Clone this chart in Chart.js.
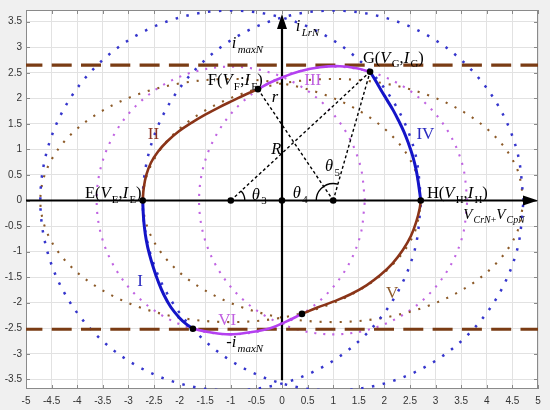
<!DOCTYPE html>
<html><head><meta charset="utf-8">
<script src="https://cdn.jsdelivr.net/npm/chart.js@4.4.1/dist/chart.umd.min.js"></script>
<style>html,body{margin:0;padding:0;background:#f0f0f0;}canvas{display:block;}</style>
</head><body>
<canvas id="c" width="550" height="410"></canvas>
<script>
// ---------------- data ----------------
const xTickValues = [-5,-4.5,-4,-3.5,-3,-2.5,-2,-1.5,-1,-0.5,0,0.5,1,1.5,2,2.5,3,3.5,4,4.5,5];
const xTickLabels = ['-5','-4.5','-4','-3.5','-3','-2.5','-2','-1.5','-1','-0.5','0','0.5','1','1.5','2','2.5','3','3.5','4','4.5','5'];
const yTickValues = [-3.5,-3,-2.5,-2,-1.5,-1,-0.5,0,0.5,1,1.5,2,2.5,3,3.5];
const yTickLabels = ['-3.5','-3','-2.5','-2','-1.5','-1','-0.5','0','0.5','1','1.5','2','2.5','3','3.5'];

// dotted loops (blue, brown, purple) around the two centres
const blueLeftX  = [2.72,2.593,2.222,1.63,0.86,-0.037,-1,-1.963,-2.86,-3.63,-4.222,-4.593,-4.72,-4.593,-4.222,-3.63,-2.86,-1.963,-1,-0.037,0.86,1.63,2.222,2.593,2.72];
const blueRightX = [4.72,4.593,4.222,3.63,2.86,1.963,1,0.037,-0.86,-1.63,-2.222,-2.593,-2.72,-2.593,-2.222,-1.63,-0.86,0.037,1,1.963,2.86,3.63,4.222,4.593,4.72];
const blueLoopY  = [0,0.963,1.86,2.63,3.222,3.593,3.72,3.593,3.222,2.63,1.86,0.963,0,-0.963,-1.86,-2.63,-3.222,-3.593,-3.72,-3.593,-3.222,-2.63,-1.86,-0.963,0];
const brownLeftX  = [2.72,2.593,2.222,1.63,0.86,-0.037,-1,-1.963,-2.86,-3.63,-4.222,-4.593,-4.72,-4.593,-4.222,-3.63,-2.86,-1.963,-1,-0.037,0.86,1.63,2.222,2.593,2.72];
const brownRightX = [4.72,4.593,4.222,3.63,2.86,1.963,1,0.037,-0.86,-1.63,-2.222,-2.593,-2.72,-2.593,-2.222,-1.63,-0.86,0.037,1,1.963,2.86,3.63,4.222,4.593,4.72];
const brownLoopY  = [0,0.616,1.19,1.683,2.061,2.299,2.38,2.299,2.061,1.683,1.19,0.616,0,-0.616,-1.19,-1.683,-2.061,-2.299,-2.38,-2.299,-2.061,-1.683,-1.19,-0.616,0];
const purpleLeftX  = [1.62,1.531,1.269,0.853,0.31,-0.322,-1,-1.678,-2.31,-2.853,-3.269,-3.531,-3.62,-3.531,-3.269,-2.853,-2.31,-1.678,-1,-0.322,0.31,0.853,1.269,1.531,1.62];
const purpleRightX = [3.62,3.531,3.269,2.853,2.31,1.678,1,0.322,-0.31,-0.853,-1.269,-1.531,-1.62,-1.531,-1.269,-0.853,-0.31,0.322,1,1.678,2.31,2.853,3.269,3.531,3.62];
const purpleLoopY  = [0,0.678,1.31,1.853,2.269,2.531,2.62,2.531,2.269,1.853,1.31,0.678,0,-0.678,-1.31,-1.853,-2.269,-2.531,-2.62,-2.531,-2.269,-1.853,-1.31,-0.678,0];

// solid trajectory stages I .. VI
const stageIX   = [-2.72,-2.71,-2.69,-2.65,-2.59,-2.51,-2.42,-2.31,-2.17,-2.0,-1.87,-1.74];
const stageIY   = [0,-0.25,-0.5,-0.78,-1.05,-1.32,-1.58,-1.84,-2.09,-2.3,-2.42,-2.51];
const stageIIX  = [-2.72,-2.7,-2.65,-2.56,-2.42,-2.24,-2.02,-1.77,-1.5,-1.22,-0.95,-0.7,-0.47];
const stageIIY  = [0,0.25,0.5,0.74,0.96,1.16,1.35,1.52,1.68,1.83,1.96,2.08,2.18];
const stageIIIX = [-0.47,-0.25,0,0.35,0.74,1.13,1.46,1.72];
const stageIIIY = [2.18,2.3,2.41,2.53,2.61,2.63,2.59,2.52];
const stageIVX  = [1.72,1.82,1.93,2.05,2.17,2.28,2.38,2.47,2.55,2.62,2.67,2.71];
const stageIVY  = [2.52,2.36,2.17,1.97,1.77,1.56,1.35,1.12,0.88,0.6,0.3,0];
const stageVX   = [0.39,0.68,1.0,1.33,1.65,1.92,2.16,2.36,2.52,2.63,2.69,2.71];
const stageVY   = [-2.22,-2.1,-1.98,-1.84,-1.66,-1.46,-1.23,-0.97,-0.69,-0.39,-0.15,0];
const stageVIX  = [-1.74,-1.41,-1.02,-0.63,-0.23,0.06,0.39];
const stageVIY  = [-2.51,-2.58,-2.62,-2.58,-2.5,-2.38,-2.22];

// key points E, F, G, H, lower I/VI, lower VI/V, centres, origin
const keyPointX = [-2.72,-0.47,1.72,2.71,-1.74,0.39,-1,1,0];
const keyPointY = [0,2.18,2.52,0,-2.51,-2.22,0,0,0];

// construction lines (R, r, centre-to-G)
const lineRX = [-1,1.72],  lineRY = [0,2.52];
const lineSmallRX = [-0.47,1], lineSmallRY = [2.18,0];
const lineGX = [1,1.72],   lineGY = [0,2.52];

// current limits +/- i_maxN
const limitX = [-5,5];
const limitUpperY = [2.65,2.65];
const limitLowerY = [-2.52,-2.52];

// coordinate axes of the state plane
const axisHX = [-5,4.8], axisHY = [0,0];
const axisVX = [0,0],    axisVY = [-3.52,3.4];

// ---------------- chart ----------------
const toPts = (xs, ys) => xs.map((x, i) => ({x, y: ys[i]}));

const dotted = (xs, ys, color, w, dash) => ({
  data: toPts(xs, ys), showLine: true, borderColor: color, borderWidth: w,
  borderDash: dash, pointRadius: 0, tension: 0.34, order: 6, borderCapStyle: 'butt'
});
const solid = (xs, ys, color, w) => ({
  data: toPts(xs, ys), showLine: true, borderColor: color, borderWidth: w,
  pointRadius: 0, tension: 0.4, order: 3, borderCapStyle: 'round'
});
const straight = (xs, ys, color, w, dash, order) => ({
  data: toPts(xs, ys), showLine: true, borderColor: color, borderWidth: w,
  borderDash: dash || [], pointRadius: 0, tension: 0, order: order
});

const BLUE_DOT = '#3535cc', BROWN_DOT = '#8c5a28', PURPLE_DOT = '#c064e2';
const BLUE = '#1414c8', BROWN = '#8a3418', PURPLE = '#b440f0';

const datasets = [
  dotted(blueLeftX, blueLoopY, BLUE_DOT, 2.5, [2.5, 8.5]),
  dotted(blueRightX, blueLoopY, BLUE_DOT, 2.5, [2.5, 8.5]),
  dotted(brownLeftX, brownLoopY, BROWN_DOT, 2.1, [2.1, 7.9]),
  dotted(brownRightX, brownLoopY, BROWN_DOT, 2.1, [2.1, 7.9]),
  dotted(purpleLeftX, purpleLoopY, PURPLE_DOT, 2.1, [2.1, 6.9]),
  dotted(purpleRightX, purpleLoopY, PURPLE_DOT, 2.1, [2.1, 6.9]),
  Object.assign(straight(limitX, limitUpperY, '#7a3c14', 3.2, [20, 9.3], 5), {borderDashOffset: 3.6}),
  Object.assign(straight(limitX, limitLowerY, '#7a3c14', 3.2, [20, 9.3], 5), {borderDashOffset: 3.6}),
  straight(axisHX, axisHY, '#000', 2.2, null, 4),
  straight(axisVX, axisVY, '#000', 2.2, null, 4),
  solid(stageIX, stageIY, BLUE, 3),
  solid(stageIIX, stageIIY, BROWN, 2.6),
  solid(stageIIIX, stageIIIY, PURPLE, 2.6),
  solid(stageIVX, stageIVY, BLUE, 3),
  solid(stageVX, stageVY, BROWN, 2.6),
  solid(stageVIX, stageVIY, PURPLE, 2.6),
  straight(lineRX, lineRY, '#000', 1.4, [3, 2.5], 2),
  straight(lineSmallRX, lineSmallRY, '#000', 1.4, [3, 2.5], 2),
  straight(lineGX, lineGY, '#000', 1.4, [3, 2.5], 2),
  {data: toPts(keyPointX, keyPointY), showLine: false, pointRadius: 3.3,
   pointBackgroundColor: '#000', pointBorderWidth: 0, order: 0}
];

// text annotations (data coordinates of left/centre baseline)
const N = 'n', I = 'i', SN = 'sn', SI = 'si';
const textLabels = [
  {x:-3.85, y:0.04, parts:[['E(',N],['V',I],['E',SN],[',',N],['I',I],['E',SN],[')',N]]},
  {x:-1.45, y:2.26, parts:[['F(',N],['V',I],['F',SN],[';',N],['I',I],['F',SN],[')',N]]},
  {x:1.58,  y:2.70, parts:[['G(',N],['V',I],['G',SN],[',',N],['I',I],['G',SN],[')',N]]},
  {x:2.83,  y:0.04, parts:[['H(',N],['V',I],['H',SN],[',',N],['I',I],['H',SN],[')',N]]},
  {x:0.27,  y:3.31, parts:[['i',I],['LrN',SI]]},
  {x:-0.98, y:2.98, parts:[['i',I],['maxN',SI]]},
  {x:-1.09, y:-2.87, parts:[['-',N],['i',I],['maxN',SI]]},
  {x:3.54,  y:-0.37, size:15, parts:[['V',I],['CrN',SI],['+',SN],['V',I],['CpN',SI]]},
  {x:-0.59, y:0.02, parts:[['θ',I],['3',SN]]},
  {x:0.21,  y:0.04, parts:[['θ',I],['4',SN]]},
  {x:0.84,  y:0.57, parts:[['θ',I],['5',SN]]},
  {x:-0.2,  y:1.93, parts:[['r',I]]},
  {x:-0.21, y:0.92, parts:[['R',I]]},
  {x:-2.77, y:-1.67, size:17, center:true, color:'#2b2bc0', parts:[['I',N]]},
  {x:-2.51, y:1.21,  size:17, center:true, color:'#8a3322', parts:[['II',N]]},
  {x:0.6,   y:2.26,  size:17, center:true, color:'#c060e0', parts:[['III',N]]},
  {x:2.8,   y:1.21,  size:17, center:true, color:'#2b2bc0', parts:[['IV',N]]},
  {x:2.15,  y:-1.9,  size:17, center:true, color:'#8c5a2c', parts:[['V',N]]},
  {x:-1.07, y:-2.44, size:17, center:true, color:'#c060e0', parts:[['VI',N]]}
];

const fontFor = (style, size) => {
  const sub = style[0] === 's';
  const ital = style[style.length - 1] === 'i';
  return (ital ? 'italic ' : '') + (sub ? size * 0.66 : size).toFixed(1) + 'px "Liberation Serif", "DejaVu Serif", serif';
};
// extra advance after an italic glyph (italic correction)
const advanceFor = (ctx, p, size) => {
  const w = ctx.measureText(p[0]).width;
  return w + (p[1] === I ? size * 0.08 : 0);
};

const decorPlugin = {
  id: 'decor',
  beforeDraw(chart) {
    const {ctx, chartArea: a} = chart;
    ctx.save();
    ctx.fillStyle = '#f0f0f0';
    ctx.fillRect(0, 0, chart.width, chart.height);
    ctx.fillStyle = '#ffffff';
    ctx.fillRect(a.left, a.top, a.right - a.left, a.bottom - a.top);
    ctx.restore();
  },
  beforeDatasetsDraw(chart) {
    const {ctx, chartArea: a, scales: {x, y}} = chart;
    ctx.save();
    ctx.strokeStyle = '#8a8a8a';
    ctx.lineWidth = 1;
    ctx.beginPath();
    xTickValues.forEach(v => {
      const px = Math.round(x.getPixelForValue(v)) + 0.5;
      ctx.moveTo(px, a.top); ctx.lineTo(px, a.top + 4);
      ctx.moveTo(px, a.bottom); ctx.lineTo(px, a.bottom - 4);
    });
    yTickValues.forEach(v => {
      const py = Math.round(y.getPixelForValue(v)) + 0.5;
      ctx.moveTo(a.left, py); ctx.lineTo(a.left + 4, py);
      ctx.moveTo(a.right, py); ctx.lineTo(a.right - 4, py);
    });
    ctx.stroke();
    ctx.strokeRect(Math.round(a.left) + 0.5, Math.round(a.top) + 0.5,
                   Math.round(a.right - a.left) - 1, Math.round(a.bottom - a.top) - 1);
    ctx.restore();
  },
  afterDatasetsDraw(chart) {
    const {ctx, scales: {x, y}} = chart;
    ctx.save();
    // arrow heads of the state-plane axes
    ctx.fillStyle = '#000';
    let tx = x.getPixelForValue(5), ty = y.getPixelForValue(0);
    ctx.beginPath(); ctx.moveTo(tx, ty); ctx.lineTo(tx - 15, ty - 5); ctx.lineTo(tx - 15, ty + 5); ctx.closePath(); ctx.fill();
    tx = x.getPixelForValue(0); ty = y.getPixelForValue(3.65);
    ctx.beginPath(); ctx.moveTo(tx, ty); ctx.lineTo(tx - 5, ty + 15); ctx.lineTo(tx + 5, ty + 15); ctx.closePath(); ctx.fill();
    // angle arcs
    ctx.strokeStyle = '#000'; ctx.lineWidth = 1.3;
    const c1x = x.getPixelForValue(lineRX[0]), c1y = y.getPixelForValue(lineRY[0]);
    const aR = Math.atan2(y.getPixelForValue(lineRY[1]) - c1y, x.getPixelForValue(lineRX[1]) - c1x);
    ctx.beginPath(); ctx.arc(c1x, c1y, 14, aR, 0); ctx.stroke();
    const c2x = x.getPixelForValue(lineGX[0]), c2y = y.getPixelForValue(lineGY[0]);
    const aG = Math.atan2(y.getPixelForValue(lineGY[1]) - c2y, x.getPixelForValue(lineGX[1]) - c2x);
    ctx.beginPath(); ctx.arc(c2x, c2y, 17, -Math.PI, aG); ctx.stroke();
    // text
    ctx.textBaseline = 'alphabetic';
    ctx.textAlign = 'left';
    textLabels.forEach(t => {
      const size = t.size || 16.5;
      ctx.fillStyle = t.color || '#000';
      let w = 0;
      t.parts.forEach(p => { ctx.font = fontFor(p[1], size); w += advanceFor(ctx, p, size); });
      let px = x.getPixelForValue(t.x) - (t.center ? w / 2 : 0);
      const py = y.getPixelForValue(t.y);
      t.parts.forEach(p => {
        ctx.font = fontFor(p[1], size);
        const dy = p[1][0] === 's' ? size * 0.27 : 0;
        ctx.fillText(p[0], px, py + dy);
        px += advanceFor(ctx, p, size);
      });
    });
    ctx.restore();
  }
};

new Chart(document.getElementById('c'), {
  type: 'scatter',
  data: {datasets},
  options: {
    responsive: false,
    animation: false,
    devicePixelRatio: 1,
    layout: {padding: {left: 0, top: 7, right: 12, bottom: 0}},
    plugins: {legend: {display: false}, tooltip: {enabled: false}},
    scales: {
      x: {
        type: 'linear', min: -5, max: 5,
        afterBuildTicks: s => { s.ticks = xTickValues.map(v => ({value: v})); },
        afterFit: s => { s.height = 21; },
        ticks: {autoSkip: false, maxRotation: 0, padding: 6, color: '#333',
                font: {family: 'Liberation Sans', size: 10},
                callback: (v, i) => xTickLabels[i]},
        grid: {color: '#e2e2e2', lineWidth: 1, drawTicks: false},
        border: {display: false}
      },
      y: {
        type: 'linear', min: -3.69, max: 3.73,
        afterBuildTicks: s => { s.ticks = yTickValues.map(v => ({value: v})); },
        afterFit: s => { s.width = 26; },
        ticks: {autoSkip: false, padding: 4, color: '#333',
                font: {family: 'Liberation Sans', size: 10},
                callback: (v, i) => yTickLabels[i]},
        grid: {color: '#e2e2e2', lineWidth: 1, drawTicks: false},
        border: {display: false}
      }
    }
  },
  plugins: [decorPlugin]
});
</script>
</body></html>
